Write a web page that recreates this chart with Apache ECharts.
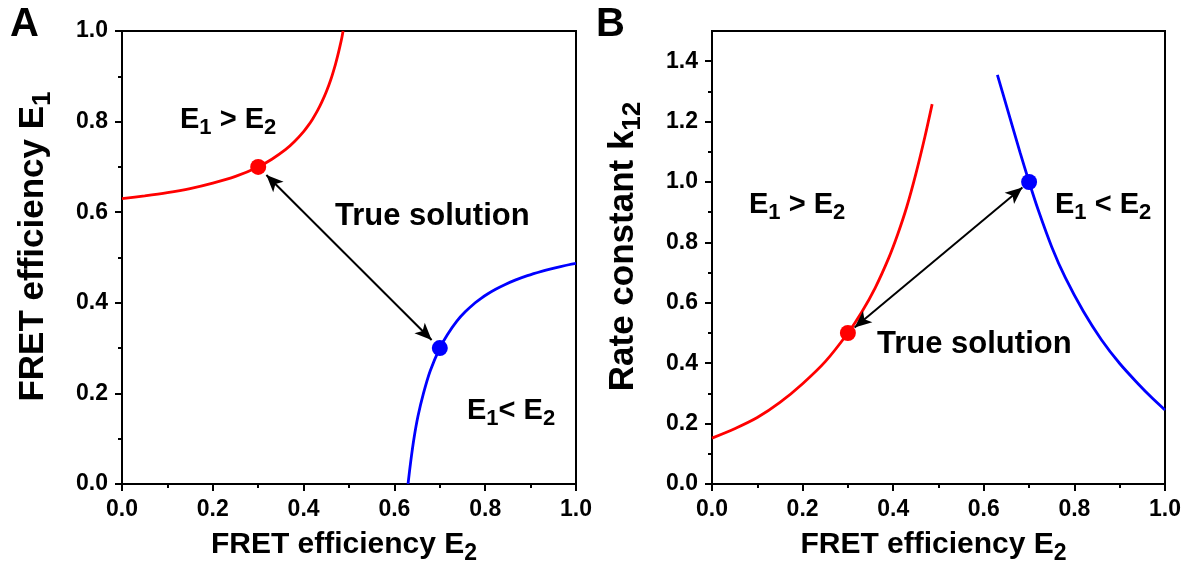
<!DOCTYPE html>
<html>
<head>
<meta charset="utf-8">
<script src="https://cdn.jsdelivr.net/npm/echarts@6/dist/echarts.min.js"></script>
<style>
  html, body { margin: 0; padding: 0; background: #ffffff; }
  #chart { width: 1197px; height: 577px; }
</style>
</head>
<body>
<div id="chart"></div>
<script>
// ---- Panel A: FRET efficiency E1 versus E2 ----
const e2RedA  = [0, 0.05, 0.1, 0.15, 0.2, 0.25, 0.3, 0.33, 0.36, 0.38, 0.40, 0.41, 0.42, 0.43, 0.44, 0.45, 0.46, 0.47, 0.475, 0.48, 0.484, 0.487];
const e1RedA  = [0.630, 0.636, 0.643, 0.652, 0.664, 0.679, 0.700, 0.717, 0.738, 0.756, 0.778, 0.791, 0.806, 0.823, 0.843, 0.866, 0.893, 0.926, 0.945, 0.966, 0.984, 1.0];
const e2BlueA = [0.630, 0.636, 0.643, 0.652, 0.664, 0.679, 0.700, 0.717, 0.738, 0.756, 0.778, 0.791, 0.806, 0.823, 0.843, 0.866, 0.893, 0.926, 0.945, 0.966, 0.984, 1.0];
const e1BlueA = [0, 0.05, 0.1, 0.15, 0.2, 0.25, 0.3, 0.33, 0.36, 0.38, 0.40, 0.41, 0.42, 0.43, 0.44, 0.45, 0.46, 0.47, 0.475, 0.48, 0.484, 0.487];
// true solution: red (E1 > E2) and blue (E1 < E2) points
const solE2A = [0.3, 0.7];
const solE1A = [0.7, 0.3];

// ---- Panel B: rate constant k12 versus E2 ----
const e2RedB  = [0, 0.05, 0.1, 0.15, 0.2, 0.25, 0.3, 0.33, 0.36, 0.39, 0.41, 0.43, 0.45, 0.47, 0.486];
const kRedB   = [0.152, 0.183, 0.220, 0.270, 0.332, 0.405, 0.500, 0.568, 0.649, 0.748, 0.827, 0.918, 1.027, 1.150, 1.258];
const e2BlueB = [0.63, 0.65, 0.68, 0.70, 0.72, 0.75, 0.78, 0.82, 0.86, 0.90, 0.94, 0.97, 1.0];
const kBlueB  = [1.355, 1.252, 1.098, 1.00, 0.908, 0.785, 0.683, 0.571, 0.477, 0.399, 0.333, 0.287, 0.245];
const solE2B = [0.3, 0.7];
const solKB  = [0.5, 1.0];

// tick values
const ticksKMajor = [0, 0.2, 0.4, 0.6, 0.8, 1.0, 1.2, 1.4];
const ticksKMinor = [0.1, 0.3, 0.5, 0.7, 0.9, 1.1, 1.3];

const FONT = '"Liberation Sans", Arial, Helvetica, sans-serif';
const RED = '#ff0000';
const BLUE = '#0000ff';
const TICK_FONT = 23;

function zip(xs, ys) { return xs.map((x, i) => [x, ys[i]]); }

// rich text style with subscripts
function richStyle(size) {
  const sub = Math.round(size * 0.75);
  return {
    m: { fontSize: size, fontWeight: 'bold', fontFamily: FONT, color: '#000', lineHeight: size + 10 },
    s: { fontSize: sub, fontWeight: 'bold', fontFamily: FONT, color: '#000', lineHeight: sub, verticalAlign: 'bottom' }
  };
}

const axisLineStyle = { color: '#000', width: 2 };
function tickLabel(extra) {
  return Object.assign({
    show: true, margin: 14, color: '#000', fontSize: TICK_FONT, fontWeight: 'bold', fontFamily: FONT,
    formatter: v => v.toFixed(1)
  }, extra || {});
}
function valueAxis(gridIndex, min, max, name, nameGap, nameSize, namePadding, extra) {
  return Object.assign({
    type: 'value', gridIndex, min, max, interval: 0.2,
    name, nameLocation: 'middle', nameGap,
    nameTextStyle: { rich: richStyle(nameSize), padding: namePadding },
    axisLine: { show: true, onZero: false, lineStyle: axisLineStyle },
    axisTick: { show: true, inside: false, length: 7, lineStyle: axisLineStyle },
    minorTick: { show: true, splitNumber: 2, length: 4, lineStyle: axisLineStyle },
    splitLine: { show: false },
    minorSplitLine: { show: false },
    axisLabel: tickLabel()
  }, extra || {});
}

function arrowBetween(p, q, t) {
  const dx = q[0] - p[0], dy = q[1] - p[1];
  return [
    { coord: [p[0] + t * dx, p[1] + t * dy] },
    { coord: [q[0] - t * dx, q[1] - t * dy] }
  ];
}

function curve(xi, yi, data, color) {
  return {
    type: 'line', xAxisIndex: xi, yAxisIndex: yi, data, smooth: 0.3,
    showSymbol: false, symbol: 'none', clip: true, z: 2,
    lineStyle: { color, width: 2.8 }, silent: true
  };
}
function dot(xi, yi, pt, color, arrow) {
  const s = {
    type: 'scatter', xAxisIndex: xi, yAxisIndex: yi, data: [pt],
    symbolSize: 16, itemStyle: { color, opacity: 1 }, z: 4, silent: true
  };
  if (arrow) {
    s.markLine = {
      silent: true, symbol: ['arrow', 'arrow'], symbolSize: [11, 17], z: 5,
      label: { show: false },
      lineStyle: { color: '#000', width: 2, type: 'solid', opacity: 1 },
      data: [arrow]
    };
  }
  return s;
}

function label(x, y, text, size) {
  return {
    type: 'text', x, y, z: 10, silent: true,
    style: { text, rich: richStyle(size), align: 'left', verticalAlign: 'top' }
  };
}

const chart = echarts.init(document.getElementById('chart'), null, { renderer: 'canvas' });

const option = {
  animation: false,
  backgroundColor: '#ffffff',
  grid: [
    { left: 122, top: 31, width: 454, height: 453, show: true, borderColor: '#000', borderWidth: 2, backgroundColor: 'transparent' },
    { left: 712, top: 31, width: 453, height: 453, show: true, borderColor: '#000', borderWidth: 2, backgroundColor: 'transparent' }
  ],
  xAxis: [
    valueAxis(0, 0, 1, '{m|FRET efficiency E}{s|2}', 41, 30, [0, 10, 0, 0]),
    valueAxis(1, 0, 1, '{m|FRET efficiency E}{s|2}', 41, 30, [0, 10, 0, 0])
  ],
  yAxis: [
    valueAxis(0, 0, 1, '{m|FRET efficiency E}{s|1}', 66, 35, [0, 0, 0, 22]),
    valueAxis(1, 0, 1.5, '{m|Rate constant k}{s|12}', 66, 35, [0, 0, 0, 22], {
      position: 'left',
      axisTick: { show: true, inside: false, length: 7, lineStyle: axisLineStyle, customValues: ticksKMajor },
      minorTick: { show: false },
      axisLabel: tickLabel({ customValues: ticksKMajor })
    }),
    // minor ticks of the k12 axis
    {
      type: 'value', gridIndex: 1, min: 0, max: 1.5, position: 'left',
      axisLine: { show: false }, axisLabel: { show: false },
      axisTick: { show: true, inside: false, length: 4, lineStyle: axisLineStyle, customValues: ticksKMinor },
      splitLine: { show: false }
    }
  ],
  series: [
    curve(0, 0, zip(e2RedA, e1RedA), RED),
    curve(0, 0, zip(e2BlueA, e1BlueA), BLUE),
    dot(0, 0, [solE2A[0], solE1A[0]], RED,
        arrowBetween([solE2A[0], solE1A[0]], [solE2A[1], solE1A[1]], 0.045)),
    dot(0, 0, [solE2A[1], solE1A[1]], BLUE),

    curve(1, 1, zip(e2RedB, kRedB), RED),
    curve(1, 1, zip(e2BlueB, kBlueB), BLUE),
    dot(1, 1, [solE2B[0], solKB[0]], RED,
        arrowBetween([solE2B[0], solKB[0]], [solE2B[1], solKB[1]], 0.037)),
    dot(1, 1, [solE2B[1], solKB[1]], BLUE)
  ],
  graphic: [
    label(10, 0, '{m|A}', 40),
    label(596, 0, '{m|B}', 40),
    label(180, 100, '{m|E}{s|1}{m| > E}{s|2}', 29),
    label(335, 196, '{m|True solution}', 31),
    label(467, 391, '{m|E}{s|1}{m|< E}{s|2}', 29),
    label(749, 185, '{m|E}{s|1}{m| > E}{s|2}', 29),
    label(1055, 185, '{m|E}{s|1}{m| < E}{s|2}', 29),
    label(877, 324, '{m|True solution}', 31)
  ]
};

chart.setOption(option);
</script>
</body>
</html>
